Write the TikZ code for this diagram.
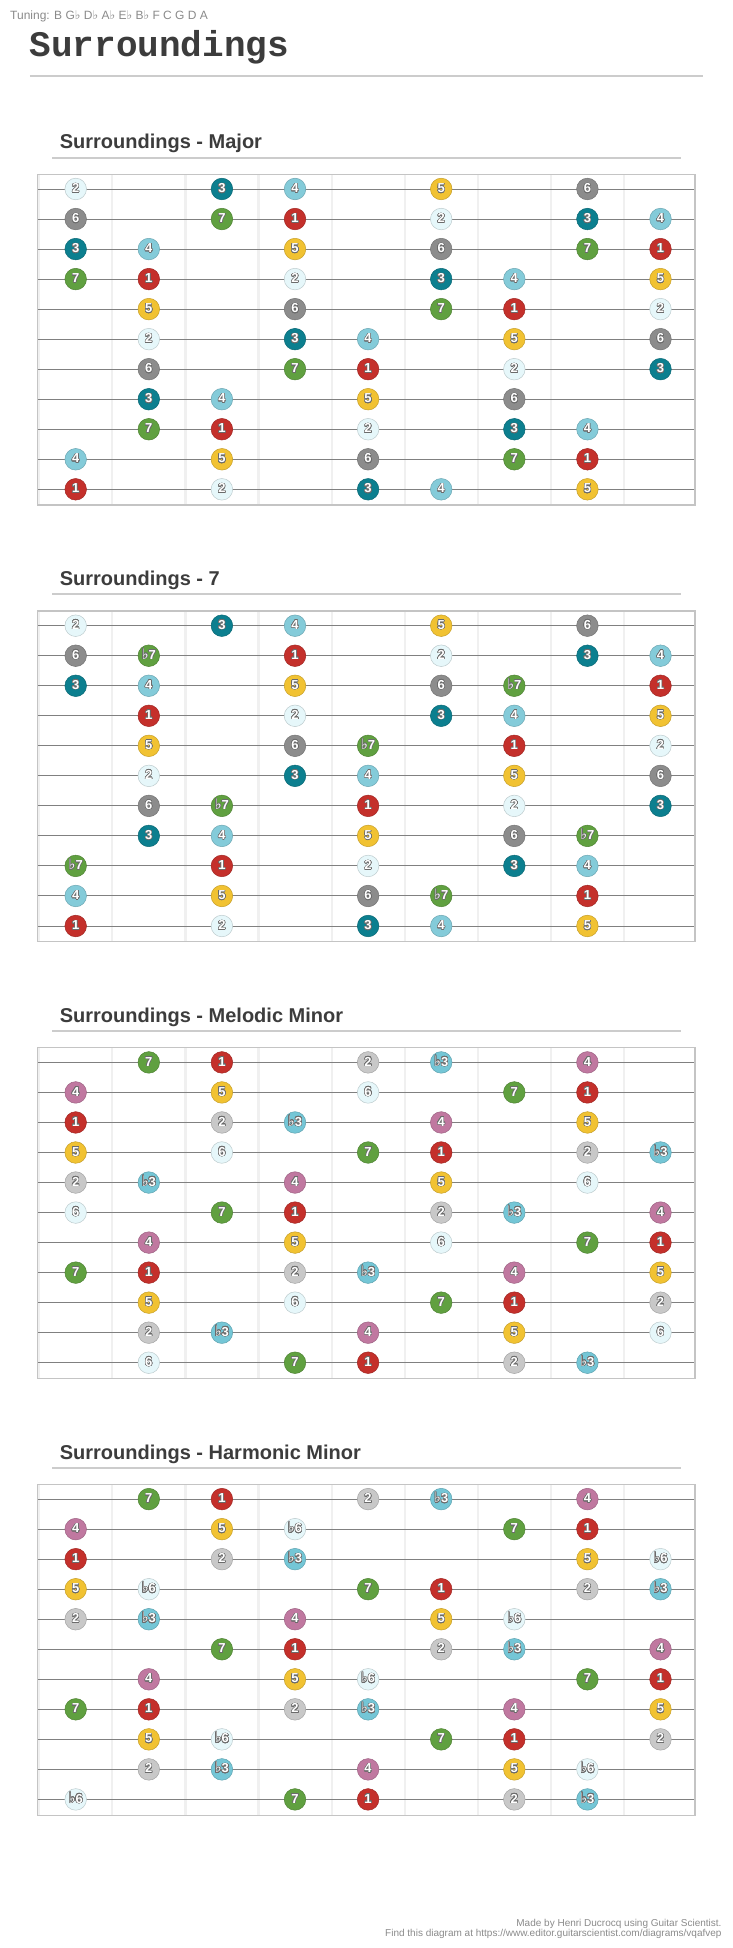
\documentclass[tikz,border=0pt]{standalone}
\usepackage{fontspec}
\setmainfont{Liberation Sans}
\setsansfont{Liberation Sans}
\newfontfamily\titlefont{Liberation Mono}
\newfontfamily\flatfont{DejaVu Sans}
\usepackage{contour}
\contourlength{0.5pt}
\contournumber{20}

\definecolor{cRed}{HTML}{C4302B}
\definecolor{cPale}{HTML}{E6F7FA}
\definecolor{cTeal}{HTML}{0C7F8F}
\definecolor{cSky}{HTML}{84CBD9}
\definecolor{cAqua}{HTML}{74C6D6}
\definecolor{cGold}{HTML}{F1C232}
\definecolor{cGray}{HTML}{8C8C8C}
\definecolor{cGreen}{HTML}{60A040}
\definecolor{cSilver}{HTML}{C8C8C8}
\definecolor{cPink}{HTML}{C078A0}
\definecolor{strgray}{HTML}{808080}
\definecolor{fretgray}{HTML}{F0F0F0}
\definecolor{framegray}{HTML}{C4C4C4}
\definecolor{rulegray}{HTML}{CCCCCC}
\definecolor{inkgray}{HTML}{3C3C3C}
\definecolor{notegray}{HTML}{8A8A8A}

\newcommand{\fl}{{\flatfont ♭}}
\newcommand{\dotfl}{{\flatfont\mdseries\fontsize{14.5}{14}\selectfont ♭}}
\def\lblsplit#1#2\relax{\if b#1\dotfl#2\else#1#2\fi}
\newcommand{\lbl}[1]{\contour{black!58}{\expandafter\lblsplit#1\relax}}

% empty fretboard, origin at its top left corner
\newcommand{\fboard}{%
  \foreach \k in {0,...,8} \draw[fret] ({1.9+73.1*\k},0) -- ++(0,330.7);
  \foreach \st in {1,...,11} \draw[strg] (0,{14.7+30.03*(\st-1)}) -- ++(657.7,0);
  \draw[frame] (0,0) rectangle (657.7,330.7);}

\begin{document}
\begin{tikzpicture}[
    x=1pt,y=-1pt,
    txt/.style={inner sep=0pt,anchor=base west},
    sect/.style={txt,font=\bfseries\fontsize{20}{23}\selectfont,text=inkgray},
    hrule/.style={draw=rulegray,line width=2pt},
    fret/.style={draw=fretgray,line width=2.2pt},
    strg/.style={draw=strgray,line width=1pt},
    frame/.style={draw=framegray,line width=1.2pt},
    dot/.style={circle,minimum size=21.6pt,inner sep=0pt,fill=#1,draw=#1!82!black,
                line width=0.5pt,text=white,text height=0.72em,text depth=0pt,
                font=\bfseries\fontsize{13}{13}\selectfont},
    d1/.style={dot=cRed}, d2/.style={dot=cPale}, d3/.style={dot=cTeal},
    d4/.style={dot=cSky}, d5/.style={dot=cGold}, d6/.style={dot=cGray},
    d7/.style={dot=cGreen}, db7/.style={dot=cGreen},
    db3/.style={dot=cAqua}, db6/.style={dot=cPale},
    minor/.style={d2/.style={dot=cSilver},d4/.style={dot=cPink},d6/.style={dot=cPale}},
]
\useasboundingbox (0,0) rectangle (733,1948);

% ---- header ----
\node[txt,font=\fontsize{12}{13}\selectfont,text=notegray] (tuning) at (10,19.5)
     {Tuning: B G\fl{} D\fl{} A\fl{} E\fl{} B\fl{} F C G D A};
\node[txt,font=\titlefont\bfseries\fontsize{36}{40}\selectfont,text=inkgray] (title) at (29.5,56.7)
     {Surroundings};
\draw[hrule] (29.8,75.8) -- (703.2,75.8);

% ---- major ----
\node[sect] (tmajor) at (59.6,149) {Surroundings - Major};
\draw[hrule] (52.2,157.5) -- (681,157.5);
\begin{scope}[shift={(37.3,174.3)}]
  \fboard
  \foreach \st/\cl/\dg in {1/0/2,1/2/3,1/3/4,1/5/5,1/7/6,
      2/0/6,2/2/7,2/3/1,2/5/2,2/7/3,2/8/4, 3/0/3,3/1/4,3/3/5,3/5/6,3/7/7,3/8/1,
      4/0/7,4/1/1,4/3/2,4/5/3,4/6/4,4/8/5, 5/1/5,5/3/6,5/5/7,5/6/1,5/8/2,
      6/1/2,6/3/3,6/4/4,6/6/5,6/8/6, 7/1/6,7/3/7,7/4/1,7/6/2,7/8/3,
      8/1/3,8/2/4,8/4/5,8/6/6, 9/1/7,9/2/1,9/4/2,9/6/3,9/7/4,
      10/0/4,10/2/5,10/4/6,10/6/7,10/7/1, 11/0/1,11/2/2,11/4/3,11/5/4,11/7/5}
    \node[d\dg] (maj-\st-\cl) at ({38.4+73.1*\cl},{14.7+30.03*(\st-1)}) {\lbl\dg};
\end{scope}

% ---- dominant 7 ----
\begin{scope}[shift={(0,436.7)}]
\node[sect] (tseventh) at (59.6,149) {Surroundings - 7};
\draw[hrule] (52.2,157.5) -- (681,157.5);
\begin{scope}[shift={(37.3,174.3)}]
  \fboard
  \foreach \st/\cl/\dg in {1/0/2,1/2/3,1/3/4,1/5/5,1/7/6,
      2/0/6,2/1/b7,2/3/1,2/5/2,2/7/3,2/8/4, 3/0/3,3/1/4,3/3/5,3/5/6,3/6/b7,3/8/1,
      4/1/1,4/3/2,4/5/3,4/6/4,4/8/5, 5/1/5,5/3/6,5/4/b7,5/6/1,5/8/2,
      6/1/2,6/3/3,6/4/4,6/6/5,6/8/6, 7/1/6,7/2/b7,7/4/1,7/6/2,7/8/3,
      8/1/3,8/2/4,8/4/5,8/6/6,8/7/b7, 9/0/b7,9/2/1,9/4/2,9/6/3,9/7/4,
      10/0/4,10/2/5,10/4/6,10/5/b7,10/7/1, 11/0/1,11/2/2,11/4/3,11/5/4,11/7/5}
    \node[d\dg] (sev-\st-\cl) at ({38.4+73.1*\cl},{14.7+30.03*(\st-1)}) {\lbl\dg};
\end{scope}
\end{scope}

% ---- melodic minor ----
\begin{scope}[shift={(0,873.4)},minor]
\node[sect] (tmelodic) at (59.6,149) {Surroundings - Melodic Minor};
\draw[hrule] (52.2,157.5) -- (681,157.5);
\begin{scope}[shift={(37.3,174.3)}]
  \fboard
  \foreach \st/\cl/\dg in {1/1/7,1/2/1,1/4/2,1/5/b3,1/7/4,
      2/0/4,2/2/5,2/4/6,2/6/7,2/7/1, 3/0/1,3/2/2,3/3/b3,3/5/4,3/7/5,
      4/0/5,4/2/6,4/4/7,4/5/1,4/7/2,4/8/b3, 5/0/2,5/1/b3,5/3/4,5/5/5,5/7/6,
      6/0/6,6/2/7,6/3/1,6/5/2,6/6/b3,6/8/4, 7/1/4,7/3/5,7/5/6,7/7/7,7/8/1,
      8/0/7,8/1/1,8/3/2,8/4/b3,8/6/4,8/8/5, 9/1/5,9/3/6,9/5/7,9/6/1,9/8/2,
      10/1/2,10/2/b3,10/4/4,10/6/5,10/8/6, 11/1/6,11/3/7,11/4/1,11/6/2,11/7/b3}
    \node[d\dg] (mel-\st-\cl) at ({38.4+73.1*\cl},{14.7+30.03*(\st-1)}) {\lbl\dg};
\end{scope}
\end{scope}

% ---- harmonic minor ----
\begin{scope}[shift={(0,1310.1)},minor]
\node[sect] (tharmonic) at (59.6,149) {Surroundings - Harmonic Minor};
\draw[hrule] (52.2,157.5) -- (681,157.5);
\begin{scope}[shift={(37.3,174.3)}]
  \fboard
  \foreach \st/\cl/\dg in {1/1/7,1/2/1,1/4/2,1/5/b3,1/7/4,
      2/0/4,2/2/5,2/3/b6,2/6/7,2/7/1, 3/0/1,3/2/2,3/3/b3,3/7/5,3/8/b6,
      4/0/5,4/1/b6,4/4/7,4/5/1,4/7/2,4/8/b3, 5/0/2,5/1/b3,5/3/4,5/5/5,5/6/b6,
      6/2/7,6/3/1,6/5/2,6/6/b3,6/8/4, 7/1/4,7/3/5,7/4/b6,7/7/7,7/8/1,
      8/0/7,8/1/1,8/3/2,8/4/b3,8/6/4,8/8/5, 9/1/5,9/2/b6,9/5/7,9/6/1,9/8/2,
      10/1/2,10/2/b3,10/4/4,10/6/5,10/7/b6, 11/0/b6,11/3/7,11/4/1,11/6/2,11/7/b3}
    \node[d\dg] (har-\st-\cl) at ({38.4+73.1*\cl},{14.7+30.03*(\st-1)}) {\lbl\dg};
\end{scope}
\end{scope}

% ---- footer ----
\node[txt,anchor=base east,font=\fontsize{10}{12}\selectfont,text=notegray] (made) at (721.7,1926.7)
     {Made by Henri Ducrocq using Guitar Scientist.};
\node[txt,anchor=base east,font=\fontsize{10}{12}\selectfont,text=notegray] (find) at (721.7,1936.7)
     {Find this diagram at https://www.editor.guitarscientist.com/diagrams/vqafvep};
\end{tikzpicture}
\end{document}
